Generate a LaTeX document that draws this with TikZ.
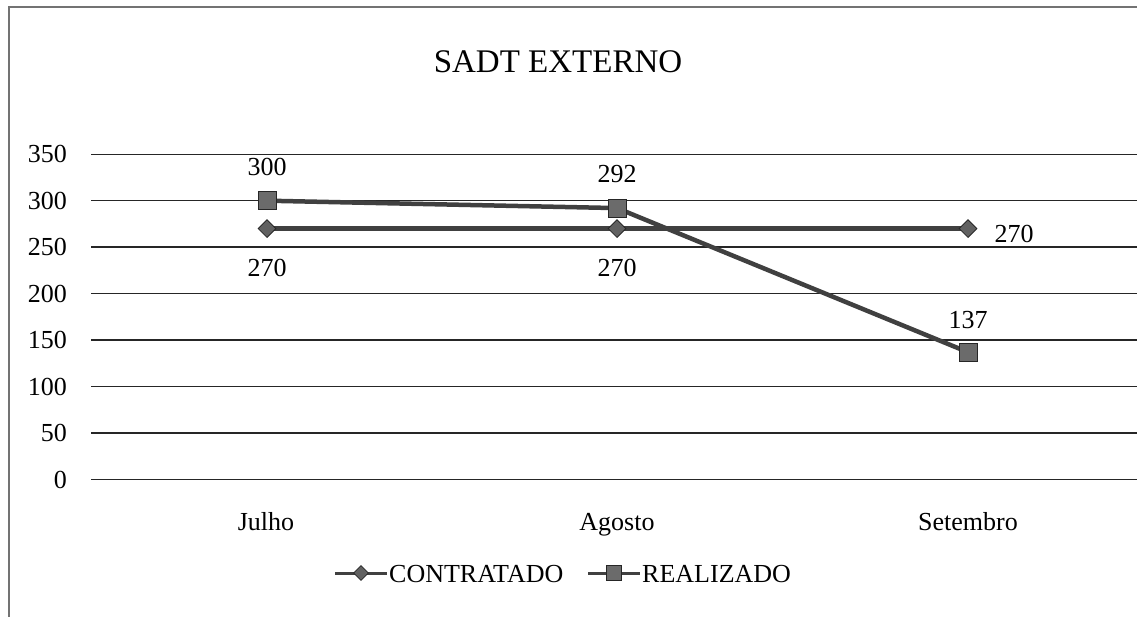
\documentclass[tikz,border=0pt]{standalone}
\usepackage{fontspec}
\setmainfont{Liberation Serif}
\usetikzlibrary{shapes.geometric}
\tikzset{
  gridline/.style={draw=black!85, line width=1.3pt},
  frameline/.style={draw=black!55, line width=1.6pt},
  series/.style={draw=black!75, line width=4.5pt},
  diam/.style={diamond, aspect=1, fill=black!62, draw=black!85, line width=0.8pt, minimum size=18pt, inner sep=0pt},
  sq/.style={rectangle, fill=black!58, draw=black!85, line width=0.8pt, minimum size=18pt, inner sep=0pt},
  lbl/.style={font=\fontsize{26}{30}\selectfont, inner sep=0pt},
  ttl/.style={font=\fontsize{33}{38}\selectfont, inner sep=0pt}
}
\begin{document}
\begin{tikzpicture}[x=1pt,y=-1pt]
\useasboundingbox (0,0) rectangle (1137,617);
\fill[white] (0,0) rectangle (1137,617);
% frame (top and left edges only visible)
\coordinate (ftl) at (9,7);
\coordinate (ftr) at (1137,7);
\coordinate (fbl) at (9,617);
\draw[frameline] (ftr) -- (ftl) -- (fbl);
% title
\node[ttl] (title) at (558,62) {SADT EXTERNO};
% grid and y labels
\foreach \v in {0,50,...,350} {
  \pgfmathsetmacro{\yy}{479.5-\v*0.9294}
  \coordinate (gl\v) at (91,\yy);
  \coordinate (gr\v) at (1137,\yy);
  \draw[gridline] (gl\v) -- (gr\v);
  \node[lbl, anchor=east] (yl\v) at (67,\yy) {\v};
}
% category labels
\node[lbl, anchor=base] (xj) at (266,530) {Julho};
\node[lbl, anchor=base] (xa) at (617,530) {Agosto};
\node[lbl, anchor=base] (xs) at (968,530) {Setembro};
% data points
\coordinate (c1) at (267,228.6);
\coordinate (c2) at (617,228.6);
\coordinate (c3) at (968,228.6);
\coordinate (r1) at (267,200.7);
\coordinate (r2) at (617,208.1);
\coordinate (r3) at (968,352.2);
\draw[series] (c1) -- (c2) -- (c3);
\draw[series] (r1) -- (r2) -- (r3);
\node[diam] (mc1) at (c1) {};
\node[diam] (mc2) at (c2) {};
\node[diam] (mc3) at (c3) {};
\node[sq] (mr1) at (r1) {};
\node[sq] (mr2) at (r2) {};
\node[sq] (mr3) at (r3) {};
% data labels
\node[lbl] (lr1) at (267,167) {300};
\node[lbl] (lr2) at (617,174) {292};
\node[lbl] (lr3) at (968,320) {137};
\node[lbl] (lc1) at (267,268) {270};
\node[lbl] (lc2) at (617,268) {270};
\node[lbl] (lc3) at (1014,234) {270};
% legend
\coordinate (la1) at (335,573);
\coordinate (la2) at (387,573);
\draw[series, line width=3pt] (la1) -- (la2);
\node[diam, minimum size=15pt] (lgd) at (361,573) {};
\node[lbl, anchor=west] (lgt1) at (389,574) {CONTRATADO};
\coordinate (lb1) at (588,573);
\coordinate (lb2) at (640,573);
\draw[series, line width=3pt] (lb1) -- (lb2);
\node[sq, minimum size=15pt] (lgs) at (614,573) {};
\node[lbl, anchor=west] (lgt2) at (642,574) {REALIZADO};
\end{tikzpicture}
\end{document}
